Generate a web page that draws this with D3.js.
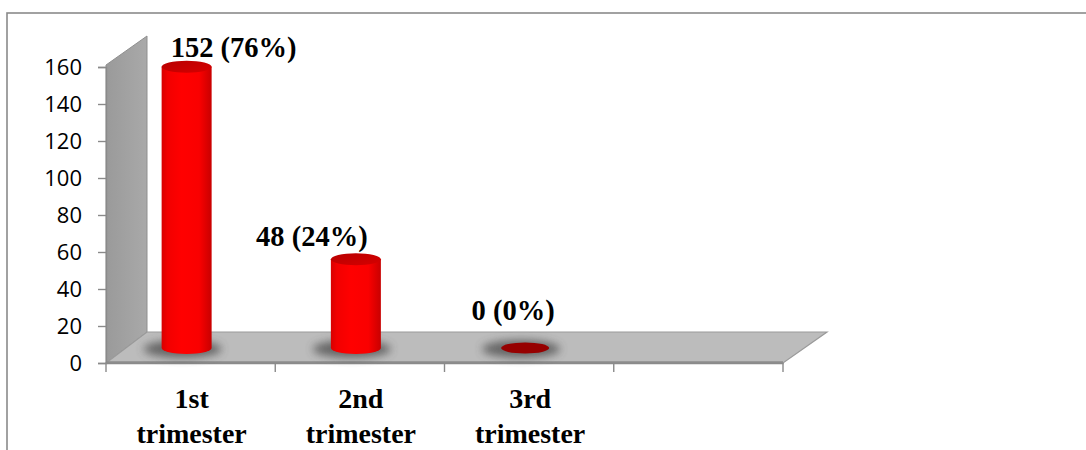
<!DOCTYPE html>
<html>
<head>
<meta charset="utf-8">
<script src="https://cdn.jsdelivr.net/npm/d3@7/dist/d3.min.js"></script>
<style>
  html, body { margin: 0; padding: 0; background: #fff; }
  svg { display: block; }
</style>
</head>
<body>
<svg id="chart" width="1086" height="450"></svg>
<script>
// Cases by trimester
const categories = ["1st trimester", "2nd trimester", "3rd trimester", ""];
const counts = [152, 48, 0];
const yTicks = [0, 20, 40, 60, 80, 100, 120, 140, 160];

const total = d3.sum(counts);

const W = 1086, H = 450;
const svg = d3.select("#chart");

// frame of the chart area
svg.append("rect")
  .attr("x", 7).attr("y", 13)
  .attr("width", W + 20).attr("height", H + 20)
  .attr("fill", "#fff").attr("stroke", "#8a8a8a").attr("stroke-width", 1.6);

// plot geometry
const x0 = 106, x1 = 783;     // front edge of the floor
const depthX = 42, depthY = -31; // 3D depth offset of back wall
const x = d3.scaleBand().domain(categories).range([x0, x1]).paddingInner(0).paddingOuter(0);
const y = d3.scaleLinear().domain([0, 160]).range([363, 67]);

// plane where the cylinders stand (mid depth)
const barShiftX = -4, barShiftY = -15;

const defs = svg.append("defs");

const wallGrad = defs.append("linearGradient").attr("id", "wallGrad")
  .attr("x1", "0").attr("x2", "1").attr("y1", "0").attr("y2", "0");
wallGrad.append("stop").attr("offset", "0").attr("stop-color", "#9a9a9a");
wallGrad.append("stop").attr("offset", "1").attr("stop-color", "#a9a9a9");

const bodyGrad = defs.append("linearGradient").attr("id", "bodyGrad")
  .attr("x1", "0").attr("x2", "1").attr("y1", "0").attr("y2", "0");
bodyGrad.append("stop").attr("offset", "0").attr("stop-color", "#d80000");
bodyGrad.append("stop").attr("offset", "0.12").attr("stop-color", "#f20000");
bodyGrad.append("stop").attr("offset", "0.4").attr("stop-color", "#ff0000");
bodyGrad.append("stop").attr("offset", "0.75").attr("stop-color", "#fa0000");
bodyGrad.append("stop").attr("offset", "1").attr("stop-color", "#c80000");

const topGrad = defs.append("linearGradient").attr("id", "topGrad")
  .attr("x1", "0").attr("x2", "1").attr("y1", "0").attr("y2", "1");
topGrad.append("stop").attr("offset", "0").attr("stop-color", "#b80000");
topGrad.append("stop").attr("offset", "1").attr("stop-color", "#d60000");

const blur = defs.append("filter").attr("id", "shadowBlur")
  .attr("x", "-50%").attr("y", "-100%").attr("width", "200%").attr("height", "300%");
blur.append("feGaussianBlur").attr("stdDeviation", 4);

// side wall
const yTop = y(160) - 2;
svg.append("path")
  .attr("d", `M${x0},${y(0)} L${x0},${yTop} L${x0 + depthX - 1},${yTop + depthY + 2} L${x0 + depthX - 1},${y(0) + depthY} Z`)
  .attr("fill", "url(#wallGrad)").attr("stroke", "#8f8f8f").attr("stroke-width", 1);

// floor
svg.append("path")
  .attr("d", `M${x0},${y(0)} L${x0 + depthX - 1},${y(0) + depthY} L${x1 + depthX + 2},${y(0) + depthY} L${x1},${y(0)} Z`)
  .attr("fill", "#bcbcbc").attr("stroke", "#9a9a9a").attr("stroke-width", 1.2);
svg.append("line")
  .attr("x1", x0).attr("x2", x1).attr("y1", y(0) - 0.5).attr("y2", y(0) - 0.5)
  .attr("stroke", "#8c8c8c").attr("stroke-width", 2.5);

// y axis
const yAxis = d3.axisLeft(y).tickValues(yTicks).tickSize(8).tickPadding(16);
const gy = svg.append("g").attr("transform", `translate(${x0},0)`).call(yAxis);
gy.select(".domain").attr("stroke", "#8a8a8a").attr("stroke-width", 1.4);
gy.selectAll(".tick line").attr("stroke", "#8a8a8a").attr("stroke-width", 1.4);
gy.selectAll(".tick text")
  .attr("font-family", "'Open Sans', sans-serif").attr("font-size", 22)
  .attr("fill", "#000");

// x axis
const xAxis = d3.axisBottom(x).tickSize(0).tickFormat("");
const gx = svg.append("g").attr("transform", `translate(0,${y(0)})`).call(xAxis);
gx.select(".domain").attr("stroke", "#8a8a8a").attr("stroke-width", 1.4);
gx.selectAll(".bound").data(d3.range(categories.length + 1)).enter().append("line")
  .attr("x1", i => x0 + i * x.bandwidth()).attr("x2", i => x0 + i * x.bandwidth())
  .attr("y1", 0).attr("y2", 9)
  .attr("stroke", "#8a8a8a").attr("stroke-width", 1.4);

// category labels (two lines each)
const catG = svg.append("g")
  .attr("font-family", "'Liberation Serif', 'Times New Roman', serif")
  .attr("font-weight", "bold").attr("font-size", 28).attr("fill", "#000")
  .attr("text-anchor", "middle");
categories.forEach(c => {
  if (!c) return;
  const parts = c.split(" ");
  const cx = x(c) + x.bandwidth() / 2 + 1;
  const t = catG.append("text").attr("x", cx).attr("y", 408);
  parts.forEach((p, i) => {
    t.append("tspan").attr("x", cx).attr("y", 408 + i * 35).text(p);
  });
});

// cylinders
const r = 25, ry = 6;
const baseY = y(0) + barShiftY;
const barG = svg.append("g");
counts.forEach((v, i) => {
  const c = categories[i];
  const cx = x(c) + x.bandwidth() / 2 + barShiftX;
  const top = baseY - (y(0) - y(v));

  // soft shadow on the floor
  barG.append("ellipse")
    .attr("cx", cx - 4).attr("cy", baseY + 1)
    .attr("rx", r + 14).attr("ry", ry + 3)
    .attr("fill", "#4a4a4a").attr("opacity", 0.75)
    .attr("filter", "url(#shadowBlur)");

  if (v > 0) {
    barG.append("path")
      .attr("d", `M${cx - r},${top} L${cx - r},${baseY} A${r},${ry} 0 0 0 ${cx + r},${baseY} L${cx + r},${top} Z`)
      .attr("fill", "url(#bodyGrad)");
    barG.append("ellipse")
      .attr("cx", cx).attr("cy", top)
      .attr("rx", r).attr("ry", ry)
      .attr("fill", "url(#topGrad)");
  } else {
    barG.append("ellipse")
      .attr("cx", cx).attr("cy", top)
      .attr("rx", r - 1).attr("ry", ry - 0.5)
      .attr("fill", "#960000");
  }
});

// value labels, nudged beside each cylinder top
const labelNudge = [[47, -10], [-44, -13], [-12, -28]];
const valG = svg.append("g")
  .attr("font-family", "'Liberation Serif', 'Times New Roman', serif")
  .attr("font-weight", "bold").attr("font-size", 28.5).attr("fill", "#000")
  .attr("text-anchor", "middle");
counts.forEach((v, i) => {
  const c = categories[i];
  const cx = x(c) + x.bandwidth() / 2 + barShiftX;
  const top = baseY - (y(0) - y(v));
  const pct = Math.round(v / total * 100);
  valG.append("text")
    .attr("x", cx + labelNudge[i][0]).attr("y", top + labelNudge[i][1])
    .text(`${v} (${pct}%)`);
});
</script>
</body>
</html>
